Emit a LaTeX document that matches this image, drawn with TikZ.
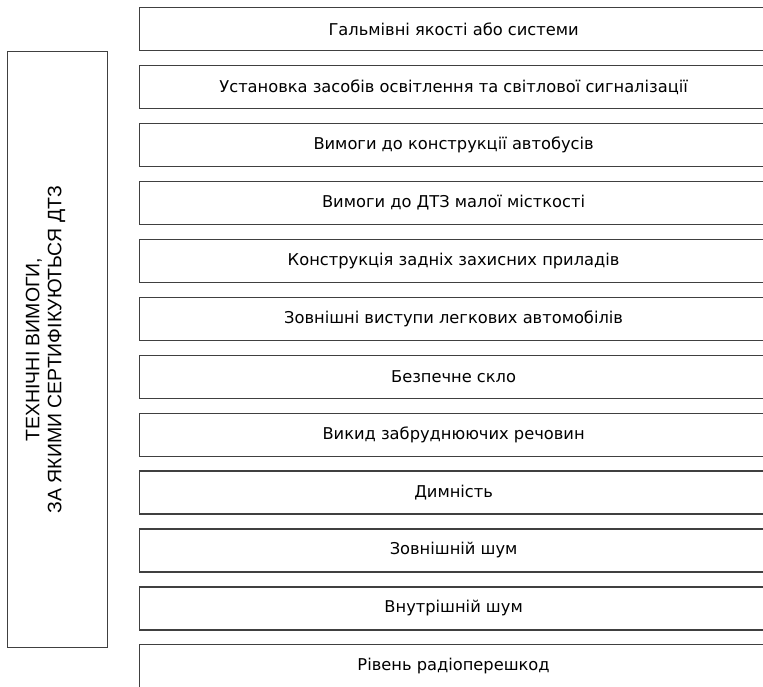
\documentclass[tikz,border=0pt]{standalone}
\usepackage{fontspec}
\setmainfont{DejaVu Sans}
\newfontfamily\capsfont{Liberation Sans}
\usetikzlibrary{positioning}

\tikzset{
  item/.style={draw=black!75, line width=0.9pt, minimum width=471pt,
    minimum height=32.25pt, inner sep=0pt,
    font=\fontsize{12.2}{14}\selectfont},
  group/.style={draw=black!75, line width=0.9pt, minimum width=75pt,
    minimum height=447pt, inner sep=0pt},
  grouptext/.style={rotate=90, align=center,
    font=\capsfont\fontsize{14.6}{16.5}\selectfont}
}

\begin{document}
\begin{tikzpicture}[x=0.75pt, y=-0.75pt, node distance=10.3pt]
  \useasboundingbox (0,0) rectangle (763,686);

  % left block
  \node[group, anchor=north west] (reqs) at (7,51) {};
  \node[grouptext] (reqstext) at ([xshift=-9pt]reqs.center)
        {ТЕХНІЧНІ ВИМОГИ,\\ЗА ЯКИМИ СЕРТИФІКУЮТЬСЯ ДТЗ};

  % requirements
  \node[item, anchor=north west] (brakes) at (139,7) {Гальмівні якості або системи};
  \node[item, below=of brakes] (lights) {Установка засобів освітлення та світлової сигналізації};
  \node[item, below=of lights] (buses) {Вимоги до конструкції автобусів};
  \node[item, below=of buses] (small) {Вимоги до ДТЗ малої місткості};
  \node[item, below=of small] (rear) {Конструкція задніх захисних приладів};
  \node[item, below=of rear] (outer) {Зовнішні виступи легкових автомобілів};
  \node[item, below=of outer] (glass) {Безпечне скло};
  \node[item, below=of glass] (exhaust) {Викид забруднюючих речовин};
  \node[item, below=of exhaust] (smoke) {Димність};
  \node[item, below=of smoke] (noiseout) {Зовнішній шум};
  \node[item, below=of noiseout] (noisein) {Внутрішній шум};
  \node[item, below=of noisein] (radio) {Рівень радіоперешкод};
\end{tikzpicture}
\end{document}
